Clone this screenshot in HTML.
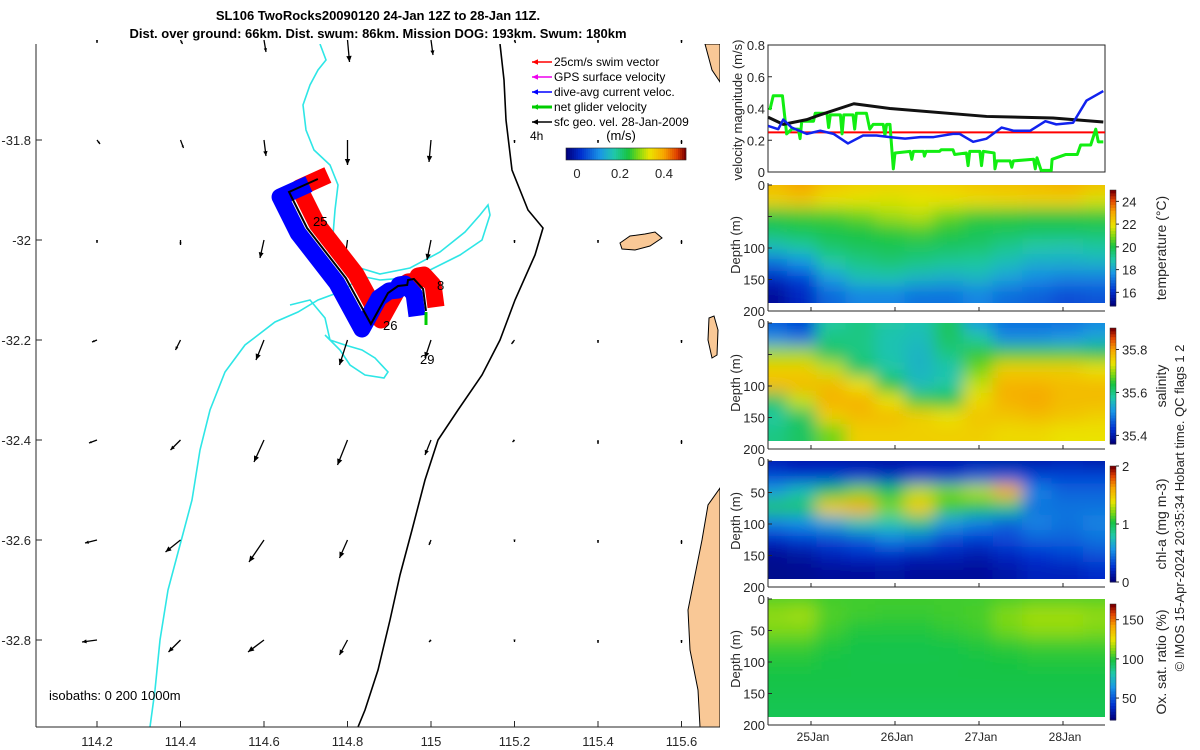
<!DOCTYPE html>
<html><head><meta charset="utf-8">
<style>
body{margin:0;background:#fff;}
svg{display:block;font-family:"Liberation Sans",sans-serif;}
</style></head>
<body>
<svg id="root" width="1200" height="750" viewBox="0 0 1200 750" xmlns="http://www.w3.org/2000/svg">
<defs>
<filter id="blur" filterUnits="userSpaceOnUse" x="650" y="100" width="600" height="700"><feGaussianBlur stdDeviation="8"/></filter>
<clipPath id="cTemp"><rect x="768" y="185" width="337" height="118"/></clipPath>
<clipPath id="cSal"><rect x="768" y="323" width="337" height="118"/></clipPath>
<clipPath id="cChl"><rect x="768" y="461" width="337" height="118"/></clipPath>
<clipPath id="cOx"><rect x="768" y="599" width="337" height="118"/></clipPath>
<clipPath id="cMap"><rect x="36" y="44" width="684" height="683"/></clipPath>
</defs>
<text x="378" y="20" text-anchor="middle" font-size="13" font-weight="bold">SL106 TwoRocks20090120 24-Jan 12Z to 28-Jan 11Z.</text>
<text x="378" y="38" text-anchor="middle" font-size="13" font-weight="bold">Dist. over ground: 66km. Dist. swum: 86km. Mission DOG: 193km. Swum: 180km</text>

<g id="map">
 <g clip-path="url(#cMap)">
  <path d="M705,44 L720,44 L720,82 L712,70 Z" fill="#f9c896" stroke="#000" stroke-width="1"/>
  <path d="M620,243 L630,236 L645,234 L655,232 L662,238 L650,246 L635,250 L622,249 Z" fill="#f9c896" stroke="#000" stroke-width="1"/>
  <path d="M709,318 L714,316 L718,330 L717,355 L712,358 L708,340 Z" fill="#f9c896" stroke="#000" stroke-width="1"/>
  <path d="M720,488 L708,505 L702,540 L695,575 L688,610 L690,650 L698,690 L700,727 L720,727 Z" fill="#f9c896" stroke="#000" stroke-width="1"/>
  <path d="M320,44 L326,60 L318,70 L310,85 L303,105 L306,130 L314,150 L330,165 L338,185 L335,210 L333,235 L345,255 L360,268 L380,274 L410,268 L440,252 L465,232 L480,215 L488,205 L490,215 L482,240 L460,255 L430,270 L405,278 L380,280 L360,276 L345,290 L318,300 L298,312 L275,322 L245,345 L225,372 L210,410 L200,450 L192,500 L180,545 L168,590 L160,640 L155,690 L150,727" fill="none" stroke="#2ee6e6" stroke-width="1.6"/>
  <path d="M290,305 L310,300 L325,318 L330,340 L345,345 L362,350 L375,358 L388,372 L384,378 L365,375 L350,365 L340,350 L325,335" fill="none" stroke="#2ee6e6" stroke-width="1.6"/>
  <path d="M500,44 L504,80 L506,120 L512,170 L528,210 L543,228 L535,255 L515,300 L500,340 L482,375 L458,410 L438,440 L425,480 L412,530 L400,575 L390,620 L378,670 L365,710 L358,727" fill="none" stroke="#000" stroke-width="1.6"/>
 </g>
 <g id="mapMarks"></g>
 <line x1="36" y1="44" x2="36" y2="727" stroke="#262626"/>
 <line x1="36" y1="727" x2="720" y2="727" stroke="#262626"/>
 <g id="mapTicks" font-size="13" fill="#262626"></g>
 <text x="49" y="700" font-size="13">isobaths: 0   200  1000m</text>
 <g id="legend" font-size="12"></g>
 <text x="530" y="140" font-size="12">4h</text>
 <text x="621" y="140" font-size="13" text-anchor="middle">(m/s)</text>
 <g id="mapCbar"></g>
</g>

<g id="vel">
 <rect x="768" y="45" width="337" height="127" fill="none" stroke="#262626"/>
 <g id="velTicks" font-size="13" fill="#262626"></g>
 <g id="velLines"></g>
 <text transform="translate(742,110) rotate(-90)" text-anchor="middle" font-size="13" fill="#262626">velocity magnitude (m/s)</text>
</g>
<g id="heat"></g>
<text transform="translate(1184,508) rotate(-90)" text-anchor="middle" font-size="13" fill="#262626">© IMOS 15-Apr-2024 20:35:34 Hobart time. QC flags 1  2</text>
</svg>
<script>
// ---------- data ----------
const greenDay=[24.51,24.55,24.66,24.71,24.77,24.85,24.87,24.89,25.03,25.05,25.19,25.21,25.23,25.35,25.37,25.39,25.50,25.52,25.54,25.66,25.70,25.74,25.86,25.88,25.90,25.94,25.98,26.00,26.18,26.20,26.22,26.34,26.35,26.37,26.53,26.55,26.69,26.71,26.85,26.87,26.89,27.01,27.03,27.05,27.18,27.19,27.21,27.37,27.39,27.41,27.65,27.67,27.69,27.74,27.86,27.87,28.03,28.17,28.21,28.33,28.39,28.42,28.48];
const greenVel=[0.39,0.48,0.48,0.24,0.27,0.27,0.21,0.32,0.32,0.37,0.37,0.28,0.36,0.36,0.24,0.36,0.36,0.27,0.37,0.37,0.27,0.30,0.30,0.23,0.30,0.30,0.02,0.12,0.13,0.08,0.13,0.13,0.10,0.13,0.13,0.14,0.14,0.11,0.12,0.04,0.13,0.13,0.04,0.13,0.12,0.02,0.07,0.07,0.03,0.07,0.08,0.02,0.09,0.01,0.01,0.08,0.11,0.11,0.17,0.17,0.27,0.19,0.19];
const blueDay=[24.49,24.61,24.67,24.77,24.95,25.11,25.27,25.44,25.62,25.78,25.94,26.12,26.30,26.46,26.69,26.77,26.93,27.09,27.27,27.41,27.61,27.79,27.92,28.12,28.28,28.48];
const blueVel=[0.29,0.27,0.33,0.28,0.24,0.26,0.24,0.18,0.23,0.23,0.22,0.21,0.22,0.22,0.24,0.24,0.19,0.21,0.28,0.26,0.26,0.32,0.30,0.31,0.45,0.51];
const blackDay=[24.49,24.67,24.95,25.11,25.51,25.94,27.09,27.88,28.48];
const blackVel=[0.345,0.30,0.33,0.36,0.43,0.40,0.35,0.34,0.315];
const swimSpeed=0.25;
const velTicks=[0,0.2,0.4,0.6,0.8];
const dateTicks=[25,26,27,28];
const dateLabels=["25Jan","26Jan","27Jan","28Jan"];

const heatDays=[24.55,24.9,25.25,25.6,25.95,26.3,26.65,27.0,27.35,27.7,28.05,28.45];
const heatDepths=[0,25,50,75,100,125,150,175];
const tempVals=[
[22.8,23.2,22.6,22.4,22.3,22.3,22.4,22.6,22.7,22.8,23.0,22.7],
[22.3,22.5,22.0,21.9,21.8,21.9,22.0,22.1,22.2,22.3,22.3,21.8],
[20.2,20.4,20.5,20.8,21.3,21.5,20.8,20.4,20.3,20.2,20.2,20.3],
[19.7,19.9,20.0,20.1,20.3,20.5,20.2,19.9,19.8,19.7,19.7,19.7],
[18.6,19.0,19.6,19.8,19.9,19.8,19.7,19.6,19.2,18.9,18.8,19.0],
[17.0,17.6,18.9,19.3,19.5,19.3,19.1,19.0,18.6,18.2,18.2,18.3],
[15.8,16.3,17.8,18.6,18.7,18.4,18.2,18.4,17.9,17.5,17.3,17.3],
[15.2,15.8,16.9,17.4,17.4,17.1,17.1,17.4,17.0,16.8,16.5,16.6]];
const salVals=[
[35.46,35.44,35.58,35.60,35.58,35.57,35.62,35.52,35.48,35.48,35.48,35.50],
[35.50,35.48,35.60,35.60,35.57,35.56,35.62,35.58,35.50,35.50,35.51,35.53],
[35.70,35.70,35.62,35.60,35.57,35.55,35.60,35.65,35.66,35.66,35.66,35.64],
[35.76,35.76,35.72,35.62,35.58,35.55,35.57,35.68,35.76,35.76,35.76,35.74],
[35.78,35.78,35.78,35.74,35.64,35.56,35.58,35.72,35.79,35.79,35.78,35.78],
[35.62,35.72,35.79,35.79,35.74,35.66,35.64,35.75,35.79,35.80,35.78,35.78],
[35.58,35.62,35.76,35.78,35.78,35.76,35.74,35.77,35.77,35.78,35.77,35.76],
[35.60,35.62,35.68,35.76,35.76,35.76,35.76,35.76,35.75,35.75,35.74,35.74]];
const chlVals=[
[0.15,0.12,0.12,0.1,0.1,0.12,0.12,0.12,0.1,0.12,0.15,0.12],
[0.3,0.25,0.25,0.25,0.2,0.25,0.25,0.35,0.35,0.3,0.3,0.3],
[0.6,0.75,1.0,1.2,1.0,1.3,1.2,1.3,1.6,0.5,0.4,0.4],
[0.95,0.95,1.5,1.6,1.2,1.5,1.1,1.0,0.9,0.45,0.45,0.45],
[0.5,0.55,0.65,0.8,0.8,0.9,0.6,0.5,0.4,0.5,0.45,0.5],
[0.22,0.28,0.32,0.38,0.5,0.45,0.32,0.28,0.32,0.4,0.4,0.45],
[0.06,0.1,0.18,0.22,0.22,0.18,0.18,0.14,0.2,0.25,0.3,0.35],
[0.04,0.05,0.08,0.08,0.1,0.08,0.08,0.08,0.12,0.18,0.18,0.22]];
const oxVals=[
[106,106,104,104,104,104,104,104,105,106,106,106],
[114,116,106,104,103,103,104,105,112,116,116,114],
[112,112,104,100,100,100,102,104,110,114,114,112],
[104,104,100,98,97,97,98,100,102,104,104,104],
[100,100,98,97,97,97,97,98,99,100,100,100],
[98,98,98,98,98,98,98,98,98,98,98,98],
[97,97,97,97,97,97,97,97,97,97,97,97],
[96,96,96,96,96,96,96,96,96,96,96,96]];

const trackLon=[114.729,114.660,114.703,114.796,114.856,114.897,114.921,114.943,114.945,114.959,114.981,114.988];
const trackLat=[-31.878,-31.904,-31.976,-32.076,-32.168,-32.106,-32.092,-32.090,-32.080,-32.078,-32.098,-32.142];
const arrowLon=[114.2,114.4,114.6,114.8,115.0,115.2,115.4,115.6];
const arrowLat=[-31.6,-31.8,-32.0,-32.2,-32.4,-32.6,-32.8];
const arrowU=[
[0,2,2,2,2,1,0,0],[3,3,2,0,-2,0,0,0],[0,0,-4,-2,-4,0,0,0],[-5,-5,-8,-8,-6,-3,0,0],
[-8,-10,-10,-10,-6,-2,0,0],[-12,-15,-15,-8,-2,0,0,0],[-15,-12,-16,-8,-2,0,0,0]];
const arrowV=[
[3,4,12,22,15,3,3,3],[4,8,16,25,22,3,3,4],[3,5,18,15,20,3,3,4],[2,10,20,25,18,4,3,3],
[3,10,22,25,15,2,4,4],[3,12,22,18,5,2,3,4],[2,12,12,15,2,2,3,3]];
const lonTicks=[114.2,114.4,114.6,114.8,115,115.2,115.4,115.6];
const latTicks=[-31.8,-32,-32.2,-32.4,-32.6,-32.8];

// ---------- helpers ----------
const NS="http://www.w3.org/2000/svg";
function mk(tag,attrs,parent){const e=document.createElementNS(NS,tag);for(const k in attrs)e.setAttribute(k,attrs[k]);parent.appendChild(e);return e;}
const stops=[[0,[0,0,127]],[0.12,[0,48,208]],[0.28,[26,150,230]],[0.40,[32,200,170]],[0.52,[24,196,64]],[0.60,[120,215,20]],[0.70,[235,228,0]],[0.82,[247,166,0]],[0.93,[224,64,0]],[1,[128,0,0]]];
function cmap(f){f=Math.max(0,Math.min(1,f));for(let i=1;i<stops.length;i++){if(f<=stops[i][0]){const a=stops[i-1],b=stops[i],t=(f-a[0])/(b[0]-a[0]);const c=a[1].map((v,j)=>Math.round(v+(b[1][j]-v)*t));return `rgb(${c[0]},${c[1]},${c[2]})`;}}return 'rgb(128,0,0)';}
const lonX=lon=>97+(lon-114.2)*417.5;
const latY=lat=>140-(lat+31.8)*500;
const dayX=d=>811+84*(d-25);
const velY=v=>172-v*158.75;

// ---------- map ----------
const mt=document.getElementById('mapTicks');
lonTicks.forEach(l=>{const x=lonX(l);
 let t=mk('line',{x1:x,y1:727,x2:x,y2:721,stroke:'#262626'},mt);
 
 
 let s=mk('text',{x:x,y:746,'text-anchor':'middle'},mt);s.textContent=String(l);
 
 });
latTicks.forEach(l=>{const y=latY(l);
 let t=mk('line',{x1:36,y1:y,x2:42,y2:y,stroke:'#262626'},mt);
 
 
 let s=mk('text',{x:31,y:y+5,'text-anchor':'end'},mt);s.textContent=String(l);
 
 });

const mm=document.getElementById('mapMarks');
function arrow(x,y,dx,dy,col,w,parent,name){
 const g=mk('g',{},parent);
 
 
 mk('line',{x1:x,y1:y,x2:x+dx,y2:y+dy,stroke:col,'stroke-width':w},g);
 const L=Math.hypot(dx,dy)||1,ux=dx/L,uy=dy/L,h=Math.min(6,Math.max(2.5,L*0.3));
 const bx=x+dx-ux*h,by=y+dy-uy*h;
 mk('polygon',{points:`${x+dx},${y+dy} ${bx-uy*h*0.45},${by+ux*h*0.45} ${bx+uy*h*0.45},${by-ux*h*0.45}`,fill:col},g);
}
arrowLat.forEach((la,i)=>arrowLon.forEach((lo,j)=>{
 arrow(lonX(lo),latY(la),arrowU[i][j],arrowV[i][j],'#000',1.3,mm,'geostrophic-arrow');
}));
const tpts=trackLon.map((lo,i)=>`${lonX(lo)},${latY(trackLat[i])}`).join(' ');
let rb=mk('polyline',{points:tpts,fill:'none',stroke:'#f00','stroke-width':17,'stroke-linejoin':'round',transform:'translate(10,-4)'},mm);


let bb=mk('polyline',{points:tpts,fill:'none',stroke:'#00f','stroke-width':17,'stroke-linejoin':'round',transform:'translate(-9,5)'},mm);


let tr=mk('polyline',{points:tpts,fill:'none',stroke:'#000','stroke-width':2},mm);


let gv=mk('line',{x1:426,y1:312,x2:426,y2:325,stroke:'#0c0','stroke-width':3},mm);


[["25",313,226],["26",383,330],["8",437,290],["29",420,364]].forEach(d=>{
 const t=mk('text',{x:d[1],y:d[2],'font-size':13},mm);t.textContent=d[0];
 
 
});

// legend
const lg=document.getElementById('legend');
[["25cm/s swim vector","#f00",1.5],["GPS surface velocity","#e0e",1.5],["dive-avg current veloc.","#00f",1.5],["net glider velocity","#0c0",3],["sfc geo. vel. 28-Jan-2009","#000",1.5]].forEach((e,i)=>{
 const y=62+i*15;
 arrow(552,y,-20,0,e[1],e[2],lg,'legend-entry-marker');
 const t=mk('text',{x:554,y:y+4},lg);t.textContent=e[0];
 
 
});
// map colorbar
const mc=document.getElementById('mapCbar');
for(let i=0;i<60;i++){mk('rect',{x:566+i*2,y:148,width:2.2,height:12,fill:cmap(i/59)},mc);}
mk('rect',{x:566,y:148,width:120,height:12,fill:'none',stroke:'#262626','stroke-width':0.6},mc);
[[0,577],[0.2,620],[0.4,664]].forEach(t=>{const s=mk('text',{x:t[1],y:178,'font-size':13,'text-anchor':'middle',fill:'#262626'},mc);s.textContent=String(t[0]);
 
 });

// ---------- velocity ----------
const vt=document.getElementById('velTicks');
velTicks.forEach(v=>{const y=velY(v);
 mk('line',{x1:768,y1:y,x2:772,y2:y,stroke:'#262626'},vt);
 const s=mk('text',{x:765,y:y+5,'text-anchor':'end'},vt);s.textContent=String(v);
 
 });
const vl=document.getElementById('velLines');
function series(days,vals,col,w,name){
 const p=mk('polyline',{points:days.map((d,i)=>`${dayX(d)},${velY(vals[i])}`).join(' '),fill:'none',stroke:col,'stroke-width':w,'stroke-linejoin':'round'},vl);
 
 
}
series([24.49,28.5],[swimSpeed,swimSpeed],'#f00',2,'swim-speed-line');
series(greenDay,greenVel,'#1e1',3,'net-glider-velocity-line');
series(blackDay,blackVel,'#111',3,'surface-geo-velocity-line');
series(blueDay,blueVel,'#12e',2.5,'current-velocity-line');

// ---------- heatmaps ----------
const hp=document.getElementById('heat');
const panels=[
 {vals:tempVals,min:14.8,max:25,y0:185,clip:'cTemp',ticks:[16,18,20,22,24],title:'temperature (°C)',name:'temperature'},
 {vals:salVals,min:35.36,max:35.9,y0:323,clip:'cSal',ticks:[35.4,35.6,35.8],title:'salinity',name:'salinity'},
 {vals:chlVals,min:0,max:2,y0:461,clip:'cChl',ticks:[0,1,2],title:'chl-a (mg m-3)',name:'chlorophyll'},
 {vals:oxVals,min:22,max:170,y0:599,clip:'cOx',ticks:[50,100,150],title:'Ox. sat. ratio (%)',name:'oxygen'}];
const nR=heatDepths.length,nC=heatDays.length;
panels.forEach((p,pi)=>{
 const g=mk('g',{},hp);
 
 
 const dy=d=>p.y0+d*0.63;
 const cg=mk('g',{'clip-path':`url(#${p.clip})`},g);
 const base=mk('g',{},cg);
 const fg=mk('g',{filter:'url(#blur)'},cg);
 [base,fg].forEach(layer=>{
  heatDepths.forEach((dep,r)=>heatDays.forEach((day,c)=>{
   const x=dayX(day);
   const xl=c===0?x-50:(x+dayX(heatDays[c-1]))/2-1;
   const xr=c===nC-1?x+50:(x+dayX(heatDays[c+1]))/2+1;
   let y0=dy(dep)-9,y1=dy(dep)+9;
   if(r===0)y0-=30; if(r===nR-1)y1+=30;
   const cell=mk('rect',{x:xl,y:y0,width:xr-xl,height:y1-y0,fill:cmap((p.vals[r][c]-p.min)/(p.max-p.min))},layer);
   
   
  }));
 });
 const yb=p.y0+126;
 mk('line',{x1:768,y1:p.y0-2,x2:768,y2:yb,stroke:'#262626'},g);
 mk('line',{x1:768,y1:yb,x2:1105,y2:yb,stroke:'#262626'},g);
 [0,50,100,150,200].forEach(d=>{
  const y=d===200?yb:dy(d);
  mk('line',{x1:768,y1:y,x2:772,y2:y,stroke:'#262626'},g);
  if(d%100===0||pi>=2||d===150){
   const s=mk('text',{x:765,y:y+5,'text-anchor':'end','font-size':13,fill:'#262626'},g);s.textContent=String(d);
   
   
  }
 });
 dateTicks.forEach(d=>mk('line',{x1:dayX(d),y1:yb,x2:dayX(d),y2:yb-4,stroke:'#262626'},g));
 const yt=mk('text',{transform:`translate(740,${p.y0+60}) rotate(-90)`,'text-anchor':'middle','font-size':13,fill:'#262626'},g);yt.textContent='Depth (m)';
 
 
 const cy0=p.y0+5,ch=116;
 for(let i=0;i<40;i++){mk('rect',{x:1110,y:cy0+ch-(i+1)*ch/40,width:6,height:ch/40+0.5,fill:cmap(i/39)},g);}
 mk('rect',{x:1110,y:cy0,width:6,height:ch,fill:'none',stroke:'#262626','stroke-width':0.5},g);
 p.ticks.forEach(t=>{const y=cy0+ch-(t-p.min)/(p.max-p.min)*ch;
  mk('line',{x1:1116,y1:y,x2:1119,y2:y,stroke:'#262626'},g);
  const s=mk('text',{x:1122,y:y+5,'font-size':13,fill:'#262626'},g);s.textContent=String(t);
  
  });
 const ct=mk('text',{transform:`translate(1166,${cy0+ch/2}) rotate(-90)`,'text-anchor':'middle','font-size':14,fill:'#262626'},g);ct.textContent=p.title;
 
 
});
dateTicks.forEach((d,i)=>{const s=mk('text',{x:dayX(d)+2,y:741,'text-anchor':'middle','font-size':12,fill:'#262626'},hp);s.textContent=dateLabels[i];
 
 });
</script>
</body></html>
